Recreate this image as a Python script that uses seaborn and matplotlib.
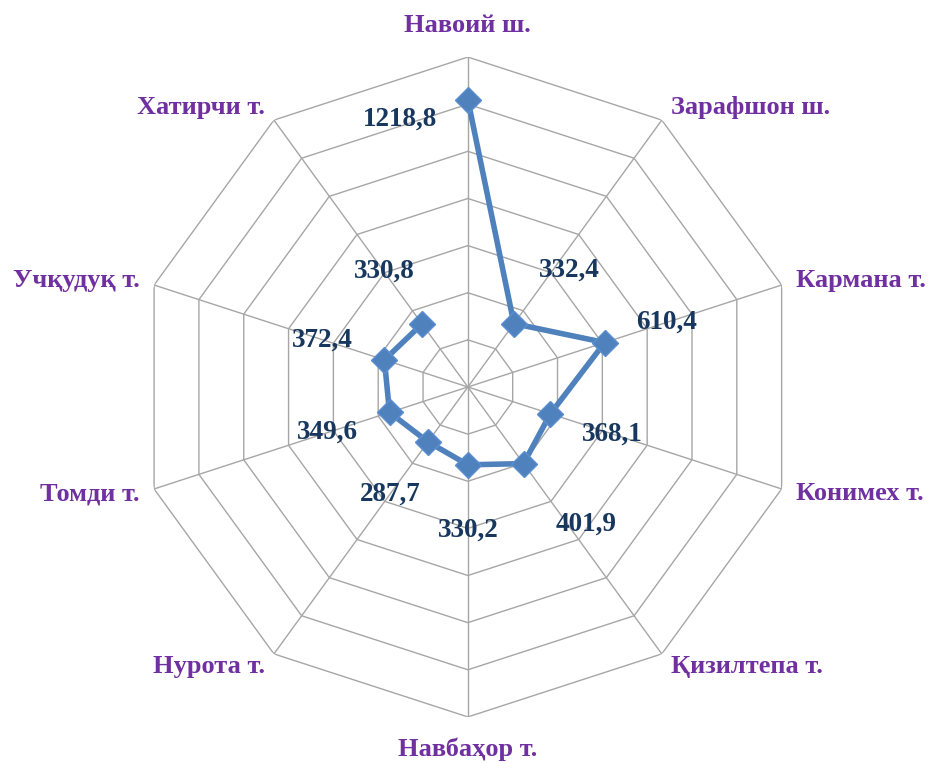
import numpy as np
import pandas as pd
import seaborn as sns
import matplotlib
matplotlib.use("Agg")
from matplotlib import pyplot as plt

# data
districts = ["Навоий ш.", "Зарафшон ш.", "Кармана т.", "Конимех т.", "Қизилтепа т.",
             "Навбаҳор т.", "Нурота т.", "Томди т.", "Учқудуқ т.", "Хатирчи т."]
values = [1218.8, 332.4, 610.4, 368.1, 401.9, 330.2, 287.7, 349.6, 372.4, 330.8]
value_labels = ["1218,8", "332,4", "610,4", "368,1", "401,9",
                "330,2", "287,7", "349,6", "372,4", "330,8"]
ring_levels = [200, 400, 600, 800, 1000, 1200, 1400]

sns.set_theme(style="white")
plt.rcParams["font.family"] = ["Liberation Serif", "DejaVu Serif"]

LINE = "#4F81BD"
GRID = "#A6A6A6"
CAT = "#7030A0"
VAL = "#17375E"

n = len(districts)
theta = np.arange(n) * 2 * np.pi / n
df = pd.DataFrame({"theta": np.append(theta, theta[0]),
                   "value": values + values[:1]})

fig = plt.figure(figsize=(9.32, 7.63), dpi=100)
ax = fig.add_axes([0.148, 0.0603, 0.708, 0.865], projection="polar")
ax.set_theta_zero_location("N")
ax.set_theta_direction(-1)
rmax = ring_levels[-1]
ax.set_ylim(0, rmax)
ax.grid(False)
ax.spines["polar"].set_visible(False)
ax.set_xticks([])
ax.set_yticks([])

# polygon grid + spokes
closed = np.append(theta, theta[0])
for lvl in ring_levels:
    ax.plot(closed, [lvl] * len(closed), color=GRID, lw=1.0, zorder=1)
for t in theta:
    ax.plot([t, t], [0, rmax], color=GRID, lw=1.0, zorder=1)

sns.lineplot(data=df, x="theta", y="value", sort=False, ax=ax, color=LINE,
             lw=4.0, marker="D", markersize=13, markerfacecolor=LINE,
             markeredgecolor="#5A8ED0", markeredgewidth=1, zorder=3)
ax.set_xlabel("")
ax.set_ylabel("")

# value labels, offset outward along each axis (a few nudged like Excel does)
nudge = {0: (-68, -19), 1: (55, 53), 4: (63, -61)}
for i, (t, v, lab) in enumerate(zip(theta, values, value_labels)):
    off = nudge.get(i, (65 * np.sin(t), 65 * np.cos(t)))
    ax.annotate(lab, xy=(t, v), xytext=off, textcoords="offset pixels",
                ha="center", va="center", fontsize=19.5, fontweight="bold",
                color=VAL, zorder=4)

# category labels just outside the outer ring
for t, name in zip(theta, districts):
    s, c = np.sin(t), np.cos(t)
    if abs(s) < 0.1:
        off = (0, 32 * np.sign(c))
        ha = "center"
    else:
        off = (15 * s, 15 * c)
        ha = "left" if s > 0 else "right"
    ax.annotate(name, xy=(t, rmax), xytext=off, textcoords="offset pixels",
                ha=ha, va="center", fontsize=19, fontweight="bold", color=CAT)

fig.savefig("out.png", dpi=100, facecolor="white")
